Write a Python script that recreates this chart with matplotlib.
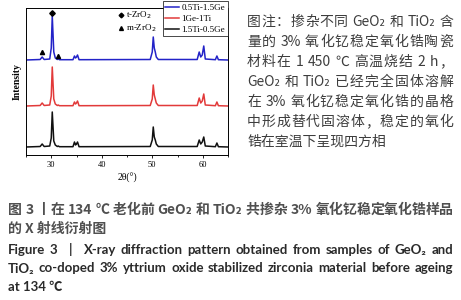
import matplotlib
matplotlib.use('Agg')
import matplotlib.pyplot as plt
from matplotlib.ticker import MultipleLocator

# XRD traces: 2-theta vertices and heights above each baseline
two_theta = [25.0, 27.8, 28.2, 28.6, 29.7, 30.0, 30.2, 30.5, 30.8, 31.2, 31.4, 31.6,
             34.3, 34.6, 34.8, 35.0, 35.2, 35.5, 49.6, 50.0, 50.2, 50.4, 50.6, 50.8,
             51.2, 58.9, 59.3, 59.6, 59.9, 60.2, 60.5, 62.5, 62.8, 63.1, 65.0]
ti05_ge15 = [0, 0.5, 3, 0.5, 1, 12, 44, 8, 2, 0.5, 1.5, 0.3,
             0.3, 4, 2, 3, 5, 0.3, 0.5, 8, 23, 12, 8, 3,
             0.5, 0.5, 8, 3, 5, 14, 1, 0.3, 4, 0.3, 0]
ge1_ti1 = [0, 0.5, 3, 0.5, 1, 10, 39, 7, 2, 0.5, 1, 0.3,
           0.3, 4, 2, 3, 5, 0.3, 0.5, 7, 21, 11, 7, 3,
           0.5, 0.5, 8, 3, 5, 12, 1, 0.3, 4, 0.3, 0]
ti15_ge05 = [0, 0.5, 3, 0.5, 1, 9, 35, 6, 2, 0.5, 1, 0.3,
             0.3, 5, 2, 3, 5, 0.3, 0.5, 7, 20, 10, 7, 3,
             0.5, 0.5, 7, 3, 5, 10, 1, 0.3, 4, 0.3, 0]
series_labels = ['0.5Ti-1.5Ge', '1Ge-1Ti', '1.5Ti-0.5Ge']

# phase markers
t_x = [30.2]
t_y = [142]
m_x = [28.2, 31.4]
m_y = [103, 99]

side_note = ['图注：掺杂不同 GeO₂ 和 TiO₂ 含',
             '量的 3% 氧化钇稳定氧化锆陶瓷',
             '材料在 1 450 ℃ 高温烧结 2 h，',
             'GeO₂ 和 TiO₂ 已经完全固体溶解',
             '在 3% 氧化钇稳定氧化锆的晶格',
             '中形成替代固溶体，稳定的氧化',
             '锆在室温下呈现四方相']
cap_cn = ['图 3 丨在 134 ℃ 老化前 GeO₂ 和 TiO₂ 共掺杂 3% 氧化钇稳定氧化锆样品',
          '的 X 射线衍射图']
cap_en = ['Figure 3   |   X-ray diffraction pattern obtained from samples of GeO₂ and',
          'TiO₂ co-doped 3% yttrium oxide stabilized zirconia material before ageing',
          'at 134 ℃']

W, H = 461, 300
fig = plt.figure(figsize=(W / 100, H / 100), dpi=100)
fig.patch.set_facecolor('white')
ax = fig.add_axes([26 / W, 1 - 155 / H, 202 / W, 147 / H])

serif = 'Liberation Serif'
offsets = [95, 49, 8]
colors = ['#2323c8', '#e23a3a', '#111111']
for ys, off, c, lab in zip([ti05_ge15, ge1_ti1, ti15_ge05], offsets, colors, series_labels):
    ax.plot(two_theta, [v + off for v in ys], color=c, lw=1.1, label=lab)

ax.plot(t_x, t_y, 'D', color='black', ms=2.8)
ax.plot(m_x, m_y, '^', color='black', ms=3.0)

ax.set_xlim(25, 65)
ax.set_ylim(0, 147)
ax.set_yticks([])
ax.set_xticks([30, 40, 50, 60])
ax.xaxis.set_minor_locator(MultipleLocator(5))
ax.tick_params(axis='x', which='major', length=2.5, width=0.6, labelsize=6, pad=1.5)
ax.tick_params(axis='x', which='minor', length=1.5, width=0.6)
for t in ax.get_xticklabels():
    t.set_family(serif)
for s in ax.spines.values():
    s.set_linewidth(0.7)
ax.set_xlabel('2θ(°)', fontsize=7, family=serif, labelpad=3)
ax.set_ylabel('Intensity', fontsize=7, family=serif, fontweight='bold', labelpad=3)

leg = ax.legend(loc='upper right', bbox_to_anchor=(1.0, 1.05), prop={'family': serif, 'size': 6.5},
                handlelength=1.5, handletextpad=0.3, labelspacing=0.3, borderpad=0.3,
                borderaxespad=0.0, fancybox=False, edgecolor='black', framealpha=1)
leg.get_frame().set_linewidth(0.5)

# phase key
ax.plot([0.47], [0.952], 'D', color='black', ms=2.4, transform=ax.transAxes, clip_on=False)
ax.plot([0.47], [0.865], '^', color='black', ms=2.8, transform=ax.transAxes, clip_on=False)
ax.text(0.495, 0.952, 't-ZrO$_2$', fontsize=6.5, family=serif, va='center', transform=ax.transAxes)
ax.text(0.495, 0.865, 'm-ZrO$_2$', fontsize=6.5, family=serif, va='center', transform=ax.transAxes)

renderer = fig.canvas.get_renderer()


def is_cjk(ch):
    return ord(ch) >= 0x2E80


def tokens_of(line):
    # split into words and single CJK chars; count the spaces before each token
    toks = []
    buf, spaced, pending = '', 0, 0
    for ch in line:
        if ch == ' ':
            if buf:
                toks.append((buf, spaced))
                buf = ''
            pending += 1
        elif is_cjk(ch):
            if buf:
                toks.append((buf, spaced))
                buf = ''
            toks.append((ch, pending))
            pending = 0
        else:
            if not buf:
                spaced = pending
                pending = 0
            buf += ch
    if buf:
        toks.append((buf, spaced))
    return toks


def put_line(line, x0, x1, y, justify, **kw):
    # place a line of text in pixel coords, spread to fill x0..x1 if justify
    if not justify:
        fig.text(x0 / W, 1 - y / H, line, va='center', ha='left', **kw)
        return
    toks = tokens_of(line)
    txts = [fig.text(0, 1 - y / H, t, va='center', ha='left', **kw) for t, _ in toks]
    widths = [t.get_window_extent(renderer).width for t in txts]
    sw = kw['fontsize'] * 100 / 72 * 0.25
    n_sp = sum(s for _, s in toks[1:])
    gap = (x1 - x0 - sum(widths) - n_sp * sw) / (len(toks) - 1)
    x = x0
    for i, (t, w) in enumerate(zip(txts, widths)):
        if i > 0:
            x += gap + toks[i][1] * sw
        t.set_x(x / W)
        x += w


cjk_fam = ['Noto Sans CJK SC', 'DejaVu Sans']
en_fam = ['Lato', 'Noto Sans CJK SC', 'DejaVu Sans']

for i, line in enumerate(side_note):
    put_line(line, 247, 453, 22 + i * 20, i < len(side_note) - 1,
             family=cjk_fam, fontsize=10, color='#3d3d3d')

for i, line in enumerate(cap_cn):
    put_line(line, 8, 453, 210 + i * 19, i == 0,
             family=cjk_fam, fontsize=10, color='#505050', fontweight='bold')

for i, line in enumerate(cap_en):
    put_line(line, 8, 453, 250 + i * 18.5, i < 2,
             family=en_fam, fontsize=9.5, color='#2a2a2a', fontweight='bold')

fig.savefig('out.png', dpi=100)
